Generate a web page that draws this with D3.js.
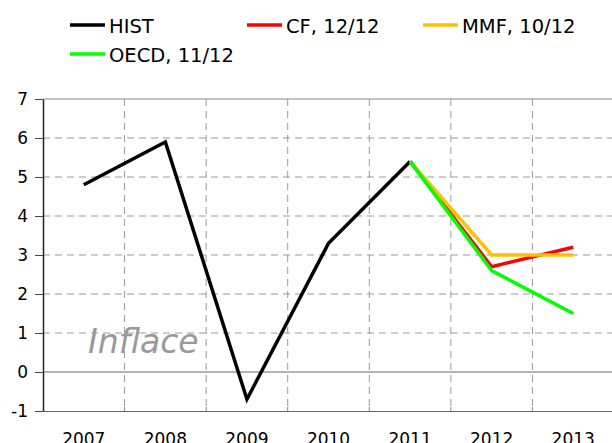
<!DOCTYPE html>
<html>
<head>
<meta charset="utf-8">
<style>
  body { margin: 0; background: #fff; }
  svg { display: block; font-family: Verdana, "DejaVu Sans", sans-serif; }
  .grid line { stroke: #999; stroke-width: 1px; stroke-dasharray: 7 5; }
  .axis text { font-size: 17px; fill: #000; font-family: Verdana, "DejaVu Sans", sans-serif; }
</style>
<script src="https://d3js.org/d3.v7.min.js"></script>
</head>
<body>
<svg width="612" height="443"></svg>
<script>
var years = ["2007", "2008", "2009", "2010", "2011", "2012", "2013"];
var yTicks = [-1, 0, 1, 2, 3, 4, 5, 6, 7];

var hist = [4.8, 5.9, -0.7, 3.3, 5.4, null, null];
var cf   = [null, null, null, null, 5.4, 2.7, 3.2];
var mmf  = [null, null, null, null, 5.4, 3.0, 3.0];
var oecd = [null, null, null, null, 5.4, 2.6, 1.5];

var seriesNames  = ["HIST", "CF, 12/12", "MMF, 10/12", "OECD, 11/12"];
var seriesColors = ["#000000", "#ff0000", "#ffc000", "#00ff00"];
var seriesData   = [hist, cf, mmf, oecd];

var svg = d3.select("svg");
var plotLeft = 43, plotRight = 614, plotTop = 99, plotBottom = 411;

var x = d3.scaleBand().domain(years).range([plotLeft, plotRight]);
var y = d3.scaleLinear().domain([-1, 7]).range([plotBottom, plotTop]);

// horizontal dashed grid
svg.append("g").attr("class", "grid")
  .selectAll("line")
  .data(yTicks.filter(function(d) { return d > 0 && d < 7; }))
  .enter().append("line")
  .attr("x1", plotLeft).attr("x2", 612)
  .attr("y1", function(d) { return y(d); })
  .attr("y2", function(d) { return y(d); });

// vertical dashed grid between categories
svg.append("g").attr("class", "grid")
  .selectAll("line")
  .data(years.slice(1))
  .enter().append("line")
  .attr("x1", function(d) { return x(d); })
  .attr("x2", function(d) { return x(d); })
  .attr("y1", plotTop).attr("y2", plotBottom);

// small solid ticks on x axis
svg.append("g")
  .selectAll("line")
  .data(years.slice(1))
  .enter().append("line")
  .attr("x1", function(d) { return x(d); })
  .attr("x2", function(d) { return x(d); })
  .attr("y1", plotBottom - 4).attr("y2", plotBottom)
  .attr("stroke", "#888");

// top border
svg.append("line")
  .attr("x1", plotLeft).attr("x2", 612)
  .attr("y1", y(7)).attr("y2", y(7))
  .attr("stroke", "#888").attr("stroke-width", 1);

// zero line
svg.append("line")
  .attr("x1", plotLeft).attr("x2", 612)
  .attr("y1", y(0)).attr("y2", y(0))
  .attr("stroke", "#666").attr("stroke-width", 1);

// x axis at bottom
var xAxis = svg.append("g").attr("class", "axis")
  .attr("transform", "translate(0," + plotBottom + ")")
  .call(d3.axisBottom(x).tickSize(0).tickPadding(22).tickSizeOuter(0));
xAxis.select(".domain").attr("stroke", "#666");

// y axis
var yAxis = svg.append("g").attr("class", "axis")
  .attr("transform", "translate(" + plotLeft + ",0)")
  .call(d3.axisLeft(y).tickValues(yTicks).tickFormat(function(d) { return String(d); })
    .tickSize(8).tickPadding(7).tickSizeOuter(0));
yAxis.select(".domain").attr("stroke", "#222").attr("stroke-width", 1.5);
yAxis.selectAll(".tick line").attr("stroke", "#444");

// label
svg.append("text")
  .attr("x", 88).attr("y", 353)
  .attr("font-size", 33)
  .attr("font-style", "italic")
  .attr("fill", "#999")
  .text("Inflace");

// lines
var line = d3.line()
  .defined(function(d) { return d != null; })
  .x(function(d, i) { return x(years[i]) + x.bandwidth() / 2; })
  .y(function(d) { return y(d); });

seriesData.forEach(function(s, i) {
  svg.append("path")
    .attr("d", line(s))
    .attr("fill", "none")
    .attr("stroke", seriesColors[i])
    .attr("stroke-width", 3.5);
});

// legend
var legendPos = [[70, 25], [247, 25], [423, 25], [70, 54]];
seriesNames.forEach(function(name, i) {
  var g = svg.append("g")
    .attr("transform", "translate(" + legendPos[i][0] + "," + legendPos[i][1] + ")");
  g.append("line")
    .attr("x1", 0).attr("x2", 35)
    .attr("y1", 0).attr("y2", 0)
    .attr("stroke", seriesColors[i])
    .attr("stroke-width", 3.5);
  g.append("text")
    .attr("x", 39).attr("y", 7.5)
    .attr("font-size", 19.5)
    .text(name);
});
</script>
</body>
</html>
